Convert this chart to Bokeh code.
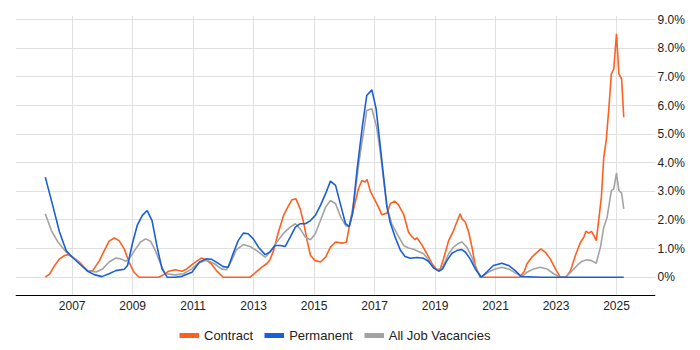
from bokeh.plotting import figure
from bokeh.models import Range1d, FixedTicker, Legend, LegendItem, ColumnDataSource, BoxAnnotation
from bokeh.embed import file_html
from bokeh.resources import INLINE

# ---- data ----
contract_x = [2006.11, 2006.26, 2006.42, 2006.58, 2006.75, 2006.86, 2007.02, 2007.24, 2007.51, 2007.68,
              2007.90, 2008.06, 2008.22, 2008.39, 2008.55, 2008.72, 2008.88, 2009.04, 2009.21, 2009.86,
              2010.03, 2010.19, 2010.41, 2010.63, 2010.79, 2010.96, 2011.12, 2011.27, 2011.43, 2011.60,
              2011.77, 2011.99, 2012.88, 2013.04, 2013.27, 2013.43, 2013.54, 2013.66, 2013.82, 2013.99,
              2014.16, 2014.27, 2014.40, 2014.54, 2014.66, 2014.77, 2014.88, 2015.04, 2015.21, 2015.38,
              2015.54, 2015.71, 2015.93, 2016.07, 2016.16, 2016.32, 2016.47, 2016.58, 2016.69, 2016.75,
              2016.86, 2017.02, 2017.13, 2017.24, 2017.41, 2017.52, 2017.66, 2017.79, 2017.96, 2018.12,
              2018.23, 2018.34, 2018.40, 2018.56, 2018.73, 2018.90, 2019.06, 2019.17, 2019.28, 2019.45,
              2019.61, 2019.72, 2019.83, 2019.89, 2020.00, 2020.11, 2020.22, 2020.33, 2020.49, 2021.80,
              2021.95, 2022.04, 2022.20, 2022.37, 2022.50, 2022.65, 2022.81, 2022.98, 2023.14, 2023.33,
              2023.48, 2023.64, 2023.81, 2023.92, 2023.99, 2024.08, 2024.17, 2024.25, 2024.33, 2024.41,
              2024.50, 2024.58, 2024.66, 2024.75, 2024.83, 2024.91, 2025.00, 2025.08, 2025.17, 2025.24]
contract_y = [0.00, 0.12, 0.41, 0.64, 0.76, 0.79, 0.70, 0.53, 0.21, 0.23,
              0.58, 0.93, 1.26, 1.37, 1.28, 0.99, 0.53, 0.18, 0.00, 0.00,
              0.09, 0.21, 0.26, 0.21, 0.29, 0.44, 0.56, 0.67, 0.61, 0.47,
              0.23, 0.00, 0.00, 0.14, 0.35, 0.47, 0.61, 0.93, 1.58, 2.16,
              2.51, 2.71, 2.74, 2.39, 1.87, 1.28, 0.76, 0.58, 0.53, 0.70,
              1.05, 1.23, 1.19, 1.23, 1.75, 2.45, 3.10, 3.38, 3.33, 3.42,
              3.00, 2.68, 2.45, 2.18, 2.24, 2.57, 2.66, 2.53, 2.20, 1.58,
              1.42, 1.31, 1.38, 1.14, 0.82, 0.47, 0.26, 0.29, 0.64, 1.28,
              1.63, 1.93, 2.22, 2.04, 1.93, 1.58, 1.05, 0.41, 0.00, 0.00,
              0.20, 0.47, 0.70, 0.87, 0.99, 0.87, 0.64, 0.29, 0.00, 0.00,
              0.23, 0.76, 1.22, 1.40, 1.61, 1.54, 1.60, 1.46, 1.28, 1.98,
              2.80, 4.20, 4.78, 5.94, 7.11, 7.28, 8.51, 7.11, 6.93, 5.59]

permanent_x = [2006.11, 2006.37, 2006.58, 2006.80, 2007.02, 2007.24, 2007.51, 2007.73, 2007.98, 2008.22,
               2008.44, 2008.72, 2008.83, 2008.99, 2009.15, 2009.32, 2009.48, 2009.64, 2009.81, 2009.97,
               2010.14, 2010.41, 2010.63, 2010.96, 2011.21, 2011.43, 2011.60, 2011.82, 2011.99, 2012.16,
               2012.32, 2012.49, 2012.66, 2012.82, 2012.99, 2013.16, 2013.38, 2013.54, 2013.71, 2013.88,
               2014.04, 2014.21, 2014.38, 2014.54, 2014.71, 2014.88, 2015.04, 2015.21, 2015.38, 2015.54,
               2015.71, 2015.88, 2016.04, 2016.16, 2016.27, 2016.43, 2016.60, 2016.74, 2016.91, 2017.05,
               2017.18, 2017.30, 2017.41, 2017.52, 2017.68, 2017.85, 2018.01, 2018.18, 2018.40, 2018.62,
               2018.79, 2018.95, 2019.12, 2019.25, 2019.39, 2019.56, 2019.72, 2019.87, 2020.00, 2020.16,
               2020.33, 2020.53, 2020.71, 2020.93, 2021.21, 2021.43, 2021.65, 2021.85, 2022.50, 2023.50,
               2024.50, 2025.24]
permanent_y = [3.50, 2.45, 1.58, 0.93, 0.68, 0.47, 0.21, 0.09, 0.02, 0.12,
               0.23, 0.28, 0.41, 1.17, 1.81, 2.16, 2.33, 1.98, 1.05, 0.29,
               0.00, 0.00, 0.03, 0.17, 0.53, 0.64, 0.63, 0.49, 0.37, 0.35,
               0.82, 1.28, 1.54, 1.52, 1.34, 1.05, 0.79, 0.88, 1.11, 1.11,
               1.07, 1.40, 1.75, 1.87, 1.87, 1.98, 2.16, 2.51, 2.92, 3.36,
               3.21, 2.51, 1.87, 1.77, 2.22, 3.85, 5.31, 6.35, 6.55, 5.89,
               4.66, 3.50, 2.45, 1.90, 1.40, 0.95, 0.72, 0.66, 0.69, 0.66,
               0.55, 0.33, 0.21, 0.29, 0.58, 0.84, 0.93, 0.97, 0.88, 0.64,
               0.29, 0.00, 0.18, 0.41, 0.49, 0.41, 0.23, 0.02, 0.00, 0.00,
               0.00, 0.00]

all_x = [2006.11, 2006.31, 2006.53, 2006.80, 2007.02, 2007.24, 2007.51, 2007.79, 2008.01, 2008.22,
         2008.44, 2008.61, 2008.77, 2008.88, 2009.10, 2009.26, 2009.43, 2009.59, 2009.75, 2009.92,
         2010.08, 2010.41, 2010.68, 2010.96, 2011.17, 2011.39, 2011.49, 2011.71, 2011.93, 2012.10,
         2012.27, 2012.43, 2012.66, 2012.88, 2013.10, 2013.38, 2013.54, 2013.77, 2013.99, 2014.21,
         2014.38, 2014.54, 2014.71, 2014.88, 2015.04, 2015.21, 2015.38, 2015.54, 2015.71, 2015.88,
         2016.04, 2016.16, 2016.32, 2016.49, 2016.66, 2016.74, 2016.91, 2017.07, 2017.18, 2017.30,
         2017.41, 2017.57, 2017.74, 2017.96, 2018.12, 2018.29, 2018.45, 2018.62, 2018.79, 2018.95,
         2019.14, 2019.28, 2019.45, 2019.61, 2019.78, 2019.89, 2020.05, 2020.22, 2020.35, 2020.53,
         2020.77, 2020.99, 2021.21, 2021.43, 2021.65, 2021.87, 2022.04, 2022.26, 2022.48, 2022.70,
         2022.92, 2023.14, 2023.31, 2023.48, 2023.70, 2023.86, 2024.03, 2024.17, 2024.33, 2024.47,
         2024.58, 2024.69, 2024.83, 2024.91, 2025.00, 2025.08, 2025.17, 2025.24]
all_y = [2.22, 1.63, 1.23, 0.88, 0.70, 0.49, 0.23, 0.18, 0.29, 0.53,
         0.67, 0.64, 0.56, 0.64, 0.99, 1.23, 1.34, 1.26, 0.93, 0.47,
         0.12, 0.08, 0.12, 0.29, 0.49, 0.58, 0.58, 0.47, 0.29, 0.26,
         0.58, 0.96, 1.14, 1.07, 0.93, 0.70, 0.88, 1.23, 1.54, 1.75,
         1.87, 1.69, 1.40, 1.31, 1.52, 1.98, 2.45, 2.68, 2.57, 2.10,
         1.81, 1.75, 2.68, 4.08, 5.25, 5.83, 5.89, 5.24, 4.43, 3.38,
         2.45, 1.86, 1.52, 1.11, 1.02, 0.98, 0.90, 0.82, 0.60, 0.33,
         0.23, 0.41, 0.82, 1.05, 1.19, 1.23, 1.05, 0.70, 0.29, 0.00,
         0.18, 0.29, 0.35, 0.29, 0.15, 0.02, 0.17, 0.29, 0.35, 0.29,
         0.12, 0.00, 0.00, 0.17, 0.41, 0.56, 0.61, 0.58, 0.49, 1.05,
         1.75, 2.10, 3.03, 3.09, 3.64, 3.03, 2.94, 2.39]

x_ticks = [2007, 2009, 2011, 2013, 2015, 2017, 2019, 2021, 2023, 2025]
y_ticks = [0, 1, 2, 3, 4, 5, 6, 7, 8, 9]
y_tick_labels = ["0%", "1.0%", "2.0%", "3.0%", "4.0%", "5.0%", "6.0%", "7.0%", "8.0%", "9.0%"]
series_names = ["Contract", "Permanent", "All Job Vacancies"]
series_colors = ["#ff5f1f", "#1a5fd6", "#a3a3a3"]

AXIS_Y = -0.64          # value where the x axis line sits
FONT = "Liberation Sans"

p = figure(width=695, height=348, output_backend="svg", toolbar_location=None,
           x_range=Range1d(2005.125, 2026.29), y_range=Range1d(-2.493, 9.15),
           y_axis_location="right",
           min_border_left=15, min_border_right=40, min_border_top=15, min_border_bottom=0)
p.outline_line_color = None
p.background_fill_color = "white"
p.border_fill_color = "white"

# keep vertical grid lines above the axis only
p.add_layout(BoxAnnotation(top=AXIS_Y, fill_color="white", fill_alpha=1.0,
                           line_color=None, level="underlay"))

src_c = ColumnDataSource(dict(x=contract_x, y=contract_y))
src_p = ColumnDataSource(dict(x=permanent_x, y=permanent_y))
src_a = ColumnDataSource(dict(x=all_x, y=all_y))

p.line("x", "y", source=src_c, line_color=series_colors[0], line_width=1.6)
p.line("x", "y", source=src_a, line_color=series_colors[2], line_width=1.6)
p.line("x", "y", source=src_p, line_color=series_colors[1], line_width=1.6)

# legend swatches (thick); a single point draws no line on the plot
one = ColumnDataSource(dict(x=contract_x[:1], y=contract_y[:1]))
leg_r = [p.line("x", "y", source=one, line_color=c, line_width=5) for c in series_colors]

# x axis drawn at a fixed place inside the frame
xa = p.xaxis[0]
xa.fixed_location = AXIS_Y
xa.ticker = FixedTicker(ticks=x_ticks)
xa.axis_line_color = "#000000"
xa.axis_line_width = 1
xa.major_tick_out = 0
xa.major_tick_in = 0
xa.minor_tick_out = 0
xa.minor_tick_in = 0
xa.major_label_standoff = 5
xa.major_label_text_font = FONT
xa.major_label_text_font_size = "12px"
xa.major_label_text_color = "#222222"

ya = p.yaxis[0]
ya.ticker = FixedTicker(ticks=y_ticks)
ya.major_label_overrides = {t: l for t, l in zip(y_ticks, y_tick_labels)}
ya.axis_line_color = None
ya.major_tick_out = 0
ya.major_tick_in = 0
ya.minor_tick_out = 0
ya.minor_tick_in = 0
ya.major_label_standoff = 2
ya.major_label_text_font = FONT
ya.major_label_text_font_size = "12px"
ya.major_label_text_color = "#222222"

p.xgrid.ticker = FixedTicker(ticks=x_ticks)
p.ygrid.ticker = FixedTicker(ticks=y_ticks)
p.xgrid.grid_line_color = "#e0e0e0"
p.ygrid.grid_line_color = "#e0e0e0"

legend = Legend(items=[LegendItem(label=n, renderers=[r]) for n, r in zip(series_names, leg_r)],
                location=(164, 5), orientation="horizontal",
                glyph_width=20, glyph_height=16, label_height=16, label_standoff=5, spacing=11,
                padding=0, margin=0, border_line_color=None, background_fill_alpha=0,
                label_text_font=FONT, label_text_font_size="13px", label_text_color="#222222")
p.add_layout(legend, "center")

open("out.html", "w").write(file_html(p, INLINE))
